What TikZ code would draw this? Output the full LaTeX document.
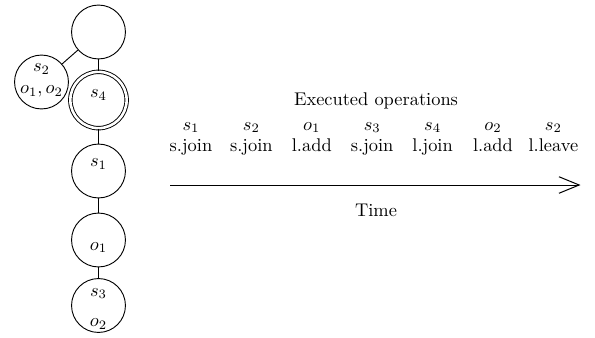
\documentclass[tikz,border=0pt]{standalone}
\usetikzlibrary{arrows.meta}
\begin{document}
\begin{tikzpicture}[x=0.5435pt,y=-0.5435pt,
  st/.style={circle,draw,line width=0.5pt,minimum size=29.3pt,inner sep=0pt},
  sl/.style={st,double,double distance=1.4pt,minimum size=30.6pt},
  tx/.style={anchor=base,inner sep=0pt},
  link/.style={line width=0.5pt}]
\useasboundingbox (0,0) rectangle (595,337);
% tree of states
\node[st] (root) at (98.5,32) {};
\node[st] (ns2) at (41.5,82) {};
\node[sl] (ns4) at (98.5,100) {};
\node[st] (ns1) at (98.5,171) {};
\node[st] (no1) at (98.5,240) {};
\node[st] (ns3) at (98.5,305.5) {};
\draw[link] (root) -- (ns2);
\draw[link] (root) -- (ns4);
\draw[link] (ns4) -- (ns1);
\draw[link] (ns1) -- (no1);
\draw[link] (no1) -- (ns3);
% contents of the states
\node[tx] (t2a) at (41.5,71.5) {$s_2$};
\node[tx] (t2b) at (41.5,93.5) {$o_1,o_2$};
\node[tx] (t4) at (98.5,97.5) {$s_4$};
\node[tx] (t1) at (98.5,166.5) {$s_1$};
\node[tx] (to1) at (98.5,250) {$o_1$};
\node[tx] (t3) at (98.5,296) {$s_3$};
\node[tx] (to2) at (98.5,326.5) {$o_2$};
% executed operations
\node[tx] (title) at (376,105.5) {Executed operations};
\foreach \i/\who/\op in {0/s_1/s.join,1/s_2/s.join,2/o_1/l.add,3/s_3/s.join,
                         4/s_4/l.join,5/o_2/l.add,6/s_2/l.leave}{
  \node[tx] (w\i) at (191+60.4*\i,130) {$\who$};
  \node[tx] (op\i) at (191+60.4*\i,151.5) {\op};
}
% time axis
\coordinate (tstart) at (170,185);
\coordinate (tend) at (580.5,185);
\draw[line width=0.55pt,-{Straight Barb[length=11pt,width=9pt,line width=0.55pt]}] (tstart) -- (tend);
\node[tx] (time) at (376,216.5) {Time};
\end{tikzpicture}
\end{document}
